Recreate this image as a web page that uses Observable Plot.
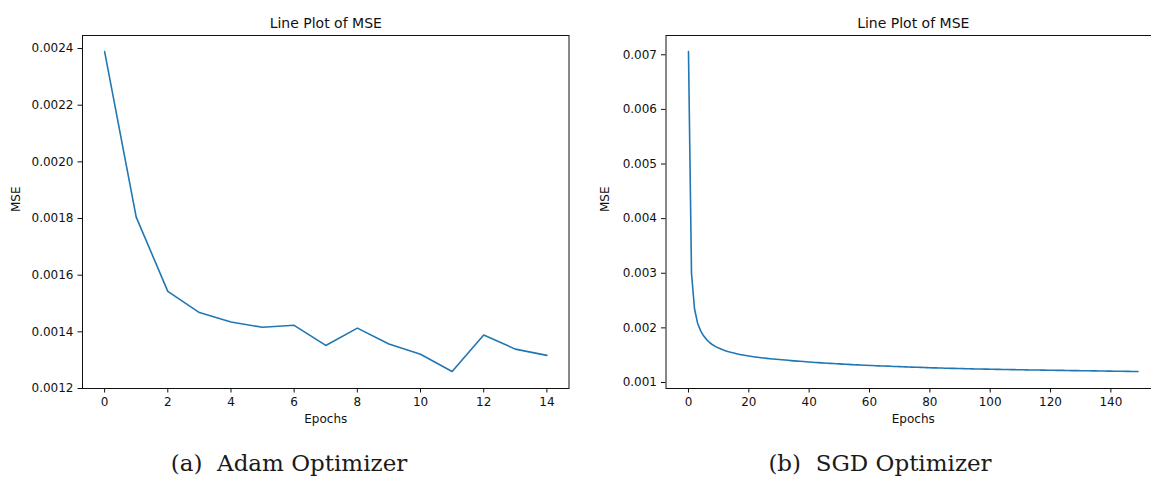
<!DOCTYPE html>
<html><head><meta charset="utf-8">
<script src="https://cdn.jsdelivr.net/npm/d3@7"></script>
<script src="https://cdn.jsdelivr.net/npm/@observablehq/plot@0.6"></script>
<style>
html,body{margin:0;padding:0;background:#fff;}
#wrap{position:relative;width:1151px;height:486px;overflow:hidden;background:#fff;}
.panel{position:absolute;top:0;}
.panel svg{max-width:none !important;}
.cap{position:absolute;top:452px;font-family:"DejaVu Serif";font-size:23px;line-height:1;text-align:center;white-space:pre;color:#1a1a1a;}
</style></head><body>
<div id="wrap">
  <div id="a" class="panel" style="left:0;width:580px"></div>
  <div id="b" class="panel" style="left:580px;width:600px"></div>
  <div class="cap" style="left:0;width:578px">(a)  Adam Optimizer</div>
  <div class="cap" style="left:580px;width:600px">(b)  SGD Optimizer</div>
</div>
<script>
// ---- data ----
const adamMSE = [0.002389, 0.001805, 0.001543, 0.001468, 0.001435, 0.001416, 0.001423, 0.001352,
  0.001413, 0.001357, 0.001321, 0.001260, 0.001389, 0.001339, 0.001317];
const adamXTicks = [0, 2, 4, 6, 8, 10, 12, 14];
const adamYTicks = [0.0012, 0.0014, 0.0016, 0.0018, 0.0020, 0.0022, 0.0024];

const sgdMSE = [
  0.007060, 0.003000, 0.002350, 0.002090, 0.001950, 0.001855, 0.001785, 0.001732, 0.001690, 0.001657,
  0.001630, 0.001607, 0.001587, 0.001569, 0.001553, 0.001539, 0.001526, 0.001514, 0.001503, 0.001493,
  0.001484, 0.001476, 0.001468, 0.001461, 0.001454, 0.001448, 0.001442, 0.001436, 0.001431, 0.001426,
  0.001421, 0.001416, 0.001411, 0.001406, 0.001401, 0.001396, 0.001392, 0.001388, 0.001383, 0.001379,
  0.001375, 0.001371, 0.001367, 0.001364, 0.001360, 0.001357, 0.001353, 0.001350, 0.001347, 0.001343,
  0.001340, 0.001337, 0.001334, 0.001331, 0.001328, 0.001325, 0.001322, 0.001320, 0.001317, 0.001315,
  0.001312, 0.001310, 0.001307, 0.001305, 0.001303, 0.001301, 0.001299, 0.001296, 0.001294, 0.001292,
  0.001290, 0.001288, 0.001286, 0.001284, 0.001282, 0.001280, 0.001278, 0.001276, 0.001274, 0.001272,
  0.001270, 0.001268, 0.001267, 0.001265, 0.001264, 0.001262, 0.001261, 0.001259, 0.001258, 0.001256,
  0.001255, 0.001254, 0.001252, 0.001251, 0.001250, 0.001248, 0.001247, 0.001246, 0.001245, 0.001244,
  0.001243, 0.001242, 0.001241, 0.001240, 0.001239, 0.001238, 0.001237, 0.001236, 0.001235, 0.001234,
  0.001233, 0.001232, 0.001231, 0.001230, 0.001229, 0.001228, 0.001228, 0.001227, 0.001226, 0.001225,
  0.001224, 0.001223, 0.001222, 0.001222, 0.001221, 0.001220, 0.001219, 0.001218, 0.001217, 0.001217,
  0.001216, 0.001215, 0.001214, 0.001214, 0.001213, 0.001212, 0.001211, 0.001210, 0.001210, 0.001209,
  0.001208, 0.001207, 0.001206, 0.001206, 0.001205, 0.001204, 0.001203, 0.001202, 0.001201, 0.001200];
const sgdXTicks = [0, 20, 40, 60, 80, 100, 120, 140];
const sgdYTicks = [0.001, 0.002, 0.003, 0.004, 0.005, 0.006, 0.007];

const titleText = "Line Plot of MSE";
const xLabel = "Epochs";
const yLabel = "MSE";
const lineColor = "#1f77b4";

function chart({values, xTicks, yTicks, yFmt, xDomain, yDomain, width, marginLeft, marginRight, yLabelDx}) {
  const rows = values.map((v, i) => ({epoch: i, mse: v}));
  return Plot.plot({
    width, height: 430,
    marginLeft, marginRight, marginTop: 35, marginBottom: 42,
    style: {fontFamily: "DejaVu Sans", fontSize: "12px", color: "#111", background: "white", maxWidth: "none"},
    x: {domain: xDomain, label: null},
    y: {domain: yDomain, label: null},
    marks: [
      Plot.axisX({ticks: xTicks, tickSize: 4.5, tickPadding: 4, fontSize: 12, label: null}),
      Plot.axisY({ticks: yTicks, tickFormat: d3.format(yFmt), tickSize: 4.5, tickPadding: 4.5, fontSize: 12, label: null}),
      Plot.line(rows, {x: "epoch", y: "mse", stroke: lineColor, strokeWidth: 1.6}),
      Plot.frame({stroke: "#111", strokeWidth: 1}),
      Plot.text([titleText], {text: d => d, frameAnchor: "top", lineAnchor: "bottom", dy: -7.5, fontSize: 14}),
      Plot.text([xLabel], {text: d => d, frameAnchor: "bottom", lineAnchor: "top", dy: 26, fontSize: 12}),
      Plot.text([yLabel], {text: d => d, frameAnchor: "left", rotate: -90, dx: yLabelDx, fontSize: 12})
    ]
  });
}

document.getElementById("a").append(chart({
  values: adamMSE, xTicks: adamXTicks, yTicks: adamYTicks, yFmt: ".4f",
  xDomain: [-0.7, 14.7], yDomain: [0.0012, 0.002446],
  width: 580, marginLeft: 82, marginRight: 11.5, yLabelDx: -66
}));
document.getElementById("b").append(chart({
  values: sgdMSE, xTicks: sgdXTicks, yTicks: sgdYTicks, yFmt: ".3f",
  xDomain: [-7.45, 156.45], yDomain: [0.00089, 0.007353],
  width: 600, marginLeft: 85.5, marginRight: 20, yLabelDx: -61
}));
</script>
</body></html>
